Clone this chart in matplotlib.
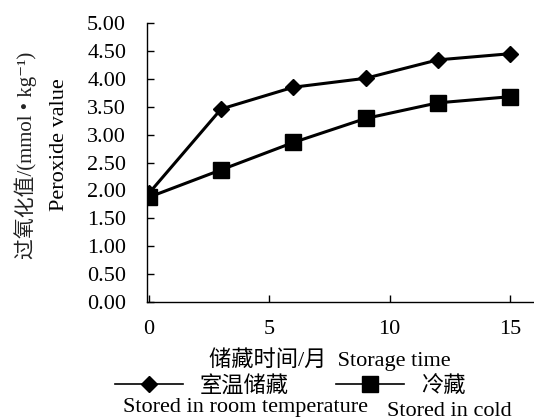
import matplotlib.pyplot as plt
from matplotlib.lines import Line2D

plt.rcParams['font.family'] = ['Liberation Serif', 'Noto Sans CJK SC',
                               'DejaVu Serif']
plt.rcParams['axes.unicode_minus'] = False

# storage time (months) and peroxide value (mmol/kg)
months = [0, 3, 6, 9, 12, 15]
room_temp = [1.95, 3.46, 3.85, 4.01, 4.34, 4.45]
cold = [1.88, 2.37, 2.86, 3.29, 3.57, 3.68]
y_ticks = [0.0, 0.5, 1.0, 1.5, 2.0, 2.5, 3.0, 3.5, 4.0, 4.5, 5.0]
x_ticks = [0, 5, 10, 15]

fig = plt.figure(figsize=(5.34, 4.19), dpi=100)
ax = fig.add_axes([0.2753, 0.279, 0.7247, 0.666])

ax.plot(months, room_temp, color='black', lw=2.2, marker='D', ms=8,
        zorder=3)
ax.plot(months, cold, color='black', lw=2.2, marker='s', ms=11,
        zorder=4)

ax.set_xlim(-0.08, 16.0)
ax.set_ylim(0, 5)
ax.set_yticks(y_ticks)
ax.set_yticklabels([f'{v:.2f}' for v in y_ticks])
ax.set_xticks(x_ticks)

for side in ['top', 'right']:
    ax.spines[side].set_visible(False)
for side in ['left', 'bottom']:
    ax.spines[side].set_linewidth(1.0)
ax.tick_params(axis='y', direction='in', length=5, width=1, pad=15,
               labelsize=16)
ax.tick_params(axis='x', direction='in', length=5, width=1, pad=13,
               labelsize=16)

# axis titles
fig.text(0.048, 0.63, '过氧化值/(mmol • kg⁻¹)', rotation=90,
         ha='center', va='center', fontsize=15, color='#222222')
fig.text(0.111, 0.654, 'Peroxide value', rotation=90,
         ha='center', va='center', fontsize=16)
fig.text(0.617, 0.143, '储藏时间/月  Storage time', ha='center',
         va='center', fontsize=16)

# legend
handles = [
    Line2D([], [], color='black', lw=1.2, marker='D', ms=8),
    Line2D([], [], color='black', lw=1.2, marker='s', ms=11),
]
fig.legend(handles, ['室温储藏', '冷藏'], ncol=2, frameon=False,
           loc='center left', bbox_to_anchor=(0.215, 0.077),
           fontsize=16, handlelength=3.06, handletextpad=0.77,
           columnspacing=2.1, borderaxespad=0, borderpad=0)
fig.text(0.23, 0.027, 'Stored in room temperature', ha='left',
         va='center', fontsize=16)
fig.text(0.725, 0.017, 'Stored in cold', ha='left', va='center',
         fontsize=16)

fig.savefig('out.png', dpi=100)
